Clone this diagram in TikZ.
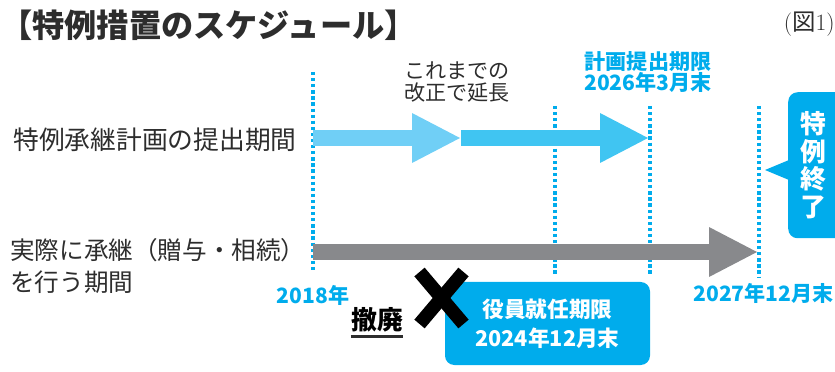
\documentclass[tikz,border=0pt]{standalone}
\usepackage{fontspec}
\newfontfamily\jp{Noto Sans CJK JP}
\usepackage{xcolor}
\usetikzlibrary{arrows.meta, calc}

\definecolor{skyblue}{RGB}{0,172,236}
\definecolor{lightarrow}{RGB}{112,207,246}
\definecolor{midarrow}{RGB}{64,197,242}
\definecolor{grayarrow}{RGB}{136,137,140}
\definecolor{inkgray}{RGB}{45,45,45}

\begin{document}
\begin{tikzpicture}[x=0.03cm, y=-0.03cm,
    timeline/.style={draw=skyblue, line width=3pt, dash pattern=on 2.8pt off 2.4pt},
    blockarrow/.style={line width=14.5pt, -{Triangle[line width=0pt, width=42.5pt, length=40.8pt]}},
    rowlabel/.style={text=inkgray, align=left, inner sep=0pt, font=\jp\fontsize{22pt}{24pt}\selectfont},
    datelabel/.style={text=skyblue, align=center, inner sep=0pt, font=\jp\bfseries\fontsize{18pt}{18pt}\selectfont},
    termbox/.style={fill=skyblue, rounded corners=8pt, text=white, align=center, font=\jp\bfseries\fontsize{18.5pt}{24.5pt}\selectfont}]
    \useasboundingbox (0,0) rectangle (835,372);
    \clip (0,0) rectangle (835,372);
    % title
    \node[anchor=west, inner sep=0pt, text=inkgray, font=\jp\bfseries\fontsize{27.5pt}{27.5pt}\selectfont] (title) at (0,25) {【特例措置のスケジュール】};
    \node[anchor=east, inner sep=0pt, text=inkgray, font=\fontsize{20pt}{20pt}\selectfont] (fignum) at (835,24) {({\jp 図}1)};
    % dotted year lines
    \foreach \name/\x/\top/\bot in {y18/313/72/273, y24/555/106/275, y26/650/106/275, y27/759/106/277} {
        \coordinate (\name a) at (\x,\top);
        \coordinate (\name b) at (\x,\bot);
        \draw[timeline] (\name a) -- (\name b);
    }
    % row labels
    \node[rowlabel, anchor=west] (planrow) at (13,140) {特例承継計画の提出期間};
    \node[rowlabel, anchor=west, font=\jp\fontsize{21pt}{28pt}\selectfont] (handrow) at (10,266) {実際に承継（贈与・相続）\\を行う期間};
    % arrows
    \coordinate (planA) at (313,138);
    \coordinate (planB) at (460,138);
    \coordinate (planC) at (461,138);
    \coordinate (planD) at (648,138);
    \coordinate (handA) at (313,252);
    \coordinate (handB) at (757,252);
    \draw[blockarrow, draw=lightarrow, fill=lightarrow] (planA) -- (planB);
    \draw[blockarrow, draw=midarrow, fill=midarrow] (planC) -- (planD);
    \draw[blockarrow, line width=13.6pt, draw=grayarrow, fill=grayarrow] (handA) -- (handB);
    % labels above
    \node[align=center, inner sep=0pt, text=inkgray, font=\jp\fontsize{18pt}{18.5pt}\selectfont] (extend) at (457,82) {これまでの\\改正で延長};
    \node[datelabel] (planend) at (648,72) {計画提出期限\\2026年3月末};
    \node[datelabel] (start) at (313,295) {2018年};
    \node[datelabel, anchor=east] (finish) at (834,293) {2027年12月末};
    % tenure box and cross
    \node[termbox, minimum width=6.15cm, minimum height=2.49cm] (tenure) at (547.5,323.5) {役員就任期限\\2024年12月末};
    \coordinate (cross) at (441.5,298);
    \draw[line width=11.5pt, black] ($(cross)+(-22,-26)$) -- ($(cross)+(22,26)$);
    \draw[line width=11.5pt, black] ($(cross)+(22,-26)$) -- ($(cross)+(-22,26)$);
    \node[inner sep=0pt, text=black, font=\jp\bfseries\fontsize{22pt}{22pt}\selectfont] (abolish) at (377,320) {撤廃};
    \draw[line width=2pt, inkgray] ($(abolish.south west)+(0,4)$) -- ($(abolish.south east)+(0,4)$);
    % end of measure callout
    \node[fill=skyblue, rounded corners=8pt, anchor=north west, minimum width=1.86cm, minimum height=4.38cm] (endbox) at (788,92) {};
    \coordinate (endtip) at (765,170);
    \fill[skyblue] ($(endbox.north west)+(1,68)$) -- (endtip) -- ($(endbox.north west)+(1,88)$) -- cycle;
    \node[align=center, inner sep=0pt, text=white, font=\jp\bfseries\fontsize{22pt}{23.5pt}\selectfont] (endtxt) at (813,165) {特\\例\\終\\了};
\end{tikzpicture}
\end{document}
